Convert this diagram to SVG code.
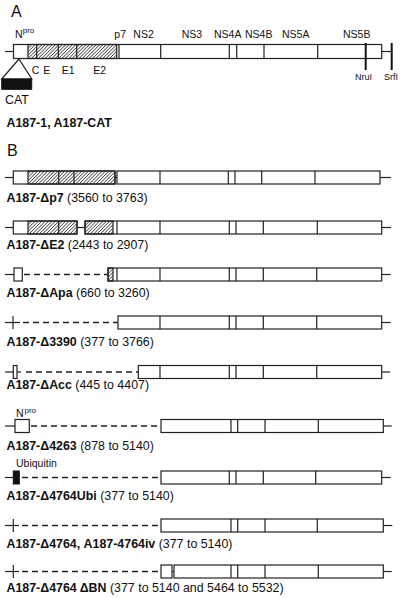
<svg xmlns="http://www.w3.org/2000/svg" width="400" height="598" viewBox="0 0 400 598">
<defs>
<pattern id="hatch" patternUnits="userSpaceOnUse" width="2.4" height="10" patternTransform="rotate(45)">
<line x1="1.2" y1="0" x2="1.2" y2="10" stroke="#333" stroke-width="0.8"/>
</pattern>
</defs>
<style>
.b{fill:#fff;stroke:#222;stroke-width:1.2}
.h{fill:url(#hatch);stroke:#222;stroke-width:1.2}
.l{stroke:#222;stroke-width:1.2;fill:none}
.k{stroke:#111;stroke-width:2;fill:none}
.d{stroke:#222;stroke-width:1.3;stroke-dasharray:6 4;fill:none}
.f{fill:#111;stroke:#111;stroke-width:1}
text{font-family:"Liberation Sans",Arial,sans-serif;fill:#111}
.p{font-size:16px}
.s{font-size:10.5px}
.sup{font-size:8px}
.t{font-size:9px}
.lab{font-size:12.4px}
.bo{font-weight:bold}
</style>

<text class="p" x="11" y="17">A</text>
<text class="p" x="7" y="156">B</text>

<g id="genome">
<line class="l" x1="5" y1="51.5" x2="13.5" y2="51.5"/>
<rect class="b" x="13.5" y="44.5" width="368.2" height="14"/>
<rect class="h" x="28" y="44.5" width="88.7" height="14"/>
<line class="l" x1="36.7" y1="44.5" x2="36.7" y2="58.5"/>
<line class="l" x1="58.3" y1="44.5" x2="58.3" y2="58.5"/>
<line class="l" x1="76.7" y1="44.5" x2="76.7" y2="58.5"/>
<line class="l" x1="119" y1="44.5" x2="119" y2="58.5"/>
<line class="l" x1="160.7" y1="44.5" x2="160.7" y2="58.5"/>
<line class="l" x1="229.3" y1="44.5" x2="229.3" y2="58.5"/>
<line class="l" x1="236.7" y1="44.5" x2="236.7" y2="58.5"/>
<line class="l" x1="264" y1="44.5" x2="264" y2="58.5"/>
<line class="l" x1="317.7" y1="44.5" x2="317.7" y2="58.5"/>
<line class="l" x1="381.7" y1="51.5" x2="391.7" y2="51.5"/>
<line class="k" x1="365.7" y1="43" x2="365.7" y2="70"/>
<line class="k" x1="391.7" y1="43" x2="391.7" y2="70"/>
<path class="l" d="M19,59 L1.7,79 L31.7,79 Z"/>
<rect class="f" x="1.7" y="79" width="30" height="10.3"/>
<text class="s" x="15" y="37.5">N</text><text class="sup" x="22.7" y="33">pro</text>
<text class="s" x="114.3" y="37.5">p7</text>
<text class="s" x="133.3" y="37.5">NS2</text>
<text class="s" x="181.7" y="37.5">NS3</text>
<text class="s" x="214" y="37.5">NS4A</text>
<text class="s" x="245" y="37.5">NS4B</text>
<text class="s" x="282" y="37.5">NS5A</text>
<text class="s" x="343" y="37.5">NS5B</text>
<text class="s" x="31.7" y="74">C</text>
<text class="s" x="43.3" y="74">E</text>
<text class="s" x="61.7" y="74">E1</text>
<text class="s" x="93.3" y="74">E2</text>
<text class="lab" x="5" y="104">CAT</text>
<text class="t" x="355" y="80">NruI</text>
<text class="t" x="384" y="80">SrfI</text>
<text class="lab bo" x="6.5" y="127">A187-1, A187-CAT</text>
</g>

<g id="row-dp7">
<line class="l" x1="5" y1="177.5" x2="13.3" y2="177.5"/>
<rect class="b" x="13.3" y="171" width="101.7" height="13"/>
<rect class="h" x="28" y="171" width="87" height="13"/>
<line class="l" x1="58.7" y1="171" x2="58.7" y2="184"/>
<line class="l" x1="74" y1="171" x2="74" y2="184"/>
<line class="l" x1="115" y1="177.5" x2="117" y2="177.5"/>
<rect class="b" x="117" y="171" width="263" height="13"/>
<line class="l" x1="160" y1="171" x2="160" y2="184"/>
<line class="l" x1="228.3" y1="171" x2="228.3" y2="184"/>
<line class="l" x1="235" y1="171" x2="235" y2="184"/>
<line class="l" x1="261.7" y1="171" x2="261.7" y2="184"/>
<line class="l" x1="315" y1="171" x2="315" y2="184"/>
<line class="l" x1="380" y1="177.5" x2="391" y2="177.5"/>
<text class="lab" x="6.5" y="202"><tspan class="bo">A187-Δp7</tspan> (3560 to 3763)</text>
</g>

<g id="row-dE2">
<line class="l" x1="5" y1="227.5" x2="13.3" y2="227.5"/>
<rect class="b" x="13.3" y="221" width="63.7" height="13"/>
<rect class="h" x="28" y="221" width="49" height="13"/>
<line class="l" x1="58.7" y1="221" x2="58.7" y2="234"/>
<line class="l" x1="77" y1="227.5" x2="85" y2="227.5"/>
<rect class="b" x="85" y="221" width="296.7" height="13"/>
<rect class="h" x="85" y="221" width="28" height="13"/>
<line class="l" x1="117" y1="221" x2="117" y2="234"/>
<line class="l" x1="160" y1="221" x2="160" y2="234"/>
<line class="l" x1="229.3" y1="221" x2="229.3" y2="234"/>
<line class="l" x1="236" y1="221" x2="236" y2="234"/>
<line class="l" x1="263.3" y1="221" x2="263.3" y2="234"/>
<line class="l" x1="317.3" y1="221" x2="317.3" y2="234"/>
<line class="l" x1="381.7" y1="227.5" x2="391" y2="227.5"/>
<text class="lab" x="6.5" y="249"><tspan class="bo">A187-ΔE2</tspan> (2443 to 2907)</text>
</g>

<g id="row-dApa">
<line class="l" x1="5" y1="274.5" x2="14" y2="274.5"/>
<rect class="b" x="14" y="268" width="8.3" height="13"/>
<line class="d" x1="24" y1="274.5" x2="108" y2="274.5"/>
<rect class="b" x="108" y="268" width="273.7" height="13"/>
<rect class="h" x="108" y="268" width="5" height="13"/>
<line class="l" x1="117" y1="268" x2="117" y2="281"/>
<line class="l" x1="160" y1="268" x2="160" y2="281"/>
<line class="l" x1="229.3" y1="268" x2="229.3" y2="281"/>
<line class="l" x1="236" y1="268" x2="236" y2="281"/>
<line class="l" x1="263.3" y1="268" x2="263.3" y2="281"/>
<line class="l" x1="316.7" y1="268" x2="316.7" y2="281"/>
<line class="l" x1="381.7" y1="274.5" x2="390.7" y2="274.5"/>
<text class="lab" x="6.5" y="297"><tspan class="bo">A187-ΔApa</tspan> (660 to 3260)</text>
</g>

<g id="row-d3390">
<line class="l" x1="5" y1="322.5" x2="20" y2="322.5"/>
<line class="l" x1="13" y1="316" x2="13" y2="329"/>
<line class="d" x1="23" y1="322.5" x2="118" y2="322.5"/>
<rect class="b" x="118" y="316" width="263.7" height="13"/>
<line class="l" x1="160" y1="316" x2="160" y2="329"/>
<line class="l" x1="229.3" y1="316" x2="229.3" y2="329"/>
<line class="l" x1="236" y1="316" x2="236" y2="329"/>
<line class="l" x1="263.3" y1="316" x2="263.3" y2="329"/>
<line class="l" x1="316.7" y1="316" x2="316.7" y2="329"/>
<line class="l" x1="381.7" y1="322.5" x2="390.7" y2="322.5"/>
<text class="lab" x="6.5" y="346"><tspan class="bo">A187-Δ3390</tspan> (377 to 3766)</text>
</g>

<g id="row-dAcc">
<line class="l" x1="5" y1="372" x2="13.3" y2="372"/>
<rect class="b" x="13.3" y="365.5" width="3.7" height="13"/>
<line class="l" x1="17" y1="372" x2="21" y2="372"/>
<line class="d" x1="26" y1="372" x2="138.3" y2="372"/>
<rect class="b" x="138.3" y="365.5" width="243.4" height="13"/>
<line class="l" x1="160" y1="365.5" x2="160" y2="378.5"/>
<line class="l" x1="229.3" y1="365.5" x2="229.3" y2="378.5"/>
<line class="l" x1="236" y1="365.5" x2="236" y2="378.5"/>
<line class="l" x1="263.3" y1="365.5" x2="263.3" y2="378.5"/>
<line class="l" x1="316.7" y1="365.5" x2="316.7" y2="378.5"/>
<line class="l" x1="381.7" y1="372" x2="390" y2="372"/>
<text class="lab" x="6.5" y="389"><tspan class="bo">A187-ΔAcc</tspan> (445 to 4407)</text>
</g>

<g id="row-d4263">
<text class="s" x="16" y="417">N</text><text class="sup" x="24.5" y="412.5">pro</text>
<line class="l" x1="5" y1="426" x2="15" y2="426"/>
<rect class="b" x="15" y="419.5" width="14.3" height="13"/>
<line class="d" x1="31" y1="426" x2="161" y2="426"/>
<rect class="b" x="161" y="419.5" width="222.3" height="13"/>
<line class="l" x1="231" y1="419.5" x2="231" y2="432.5"/>
<line class="l" x1="237.7" y1="419.5" x2="237.7" y2="432.5"/>
<line class="l" x1="265" y1="419.5" x2="265" y2="432.5"/>
<line class="l" x1="318.3" y1="419.5" x2="318.3" y2="432.5"/>
<line class="l" x1="383.3" y1="426" x2="391.7" y2="426"/>
<text class="lab" x="6.5" y="450"><tspan class="bo">A187-Δ4263</tspan> (878 to 5140)</text>
</g>

<g id="row-d4764Ubi">
<text class="s" x="16" y="467">Ubiquitin</text>
<line class="l" x1="5" y1="477.5" x2="13.3" y2="477.5"/>
<rect class="f" x="13.3" y="471" width="6" height="13"/>
<line class="d" x1="22" y1="477.5" x2="161" y2="477.5"/>
<rect class="b" x="161" y="471" width="220.7" height="13"/>
<line class="l" x1="229.3" y1="471" x2="229.3" y2="484"/>
<line class="l" x1="236" y1="471" x2="236" y2="484"/>
<line class="l" x1="263.3" y1="471" x2="263.3" y2="484"/>
<line class="l" x1="315.7" y1="471" x2="315.7" y2="484"/>
<line class="l" x1="381.7" y1="477.5" x2="390.7" y2="477.5"/>
<text class="lab" x="6.5" y="500"><tspan class="bo">A187-Δ4764Ubi</tspan> (377 to 5140)</text>
</g>

<g id="row-d4764">
<line class="l" x1="5" y1="525.5" x2="19" y2="525.5"/>
<line class="l" x1="13.3" y1="519" x2="13.3" y2="532"/>
<line class="d" x1="22" y1="525.5" x2="161" y2="525.5"/>
<rect class="b" x="161" y="519" width="222.3" height="13"/>
<line class="l" x1="231" y1="519" x2="231" y2="532"/>
<line class="l" x1="237.7" y1="519" x2="237.7" y2="532"/>
<line class="l" x1="265" y1="519" x2="265" y2="532"/>
<line class="l" x1="317.3" y1="519" x2="317.3" y2="532"/>
<line class="l" x1="383.3" y1="525.5" x2="392.3" y2="525.5"/>
<text class="lab" x="6.5" y="548"><tspan class="bo">A187-Δ4764, A187-4764iv</tspan> (377 to 5140)</text>
</g>

<g id="row-d4764dBN">
<line class="l" x1="5" y1="571.5" x2="19" y2="571.5"/>
<line class="l" x1="13.3" y1="565" x2="13.3" y2="578"/>
<line class="d" x1="22" y1="571.5" x2="161" y2="571.5"/>
<rect class="b" x="161" y="565" width="11" height="13"/>
<line class="l" x1="172" y1="571.5" x2="174" y2="571.5"/>
<rect class="b" x="174" y="565" width="209.3" height="13"/>
<line class="l" x1="231" y1="565" x2="231" y2="578"/>
<line class="l" x1="237.7" y1="565" x2="237.7" y2="578"/>
<line class="l" x1="265" y1="565" x2="265" y2="578"/>
<line class="l" x1="318.3" y1="565" x2="318.3" y2="578"/>
<line class="l" x1="383.3" y1="571.5" x2="391.7" y2="571.5"/>
<text class="lab" x="6.5" y="592"><tspan class="bo">A187-Δ4764 ΔBN</tspan> (377 to 5140 and 5464 to 5532)</text>
</g>
</svg>
